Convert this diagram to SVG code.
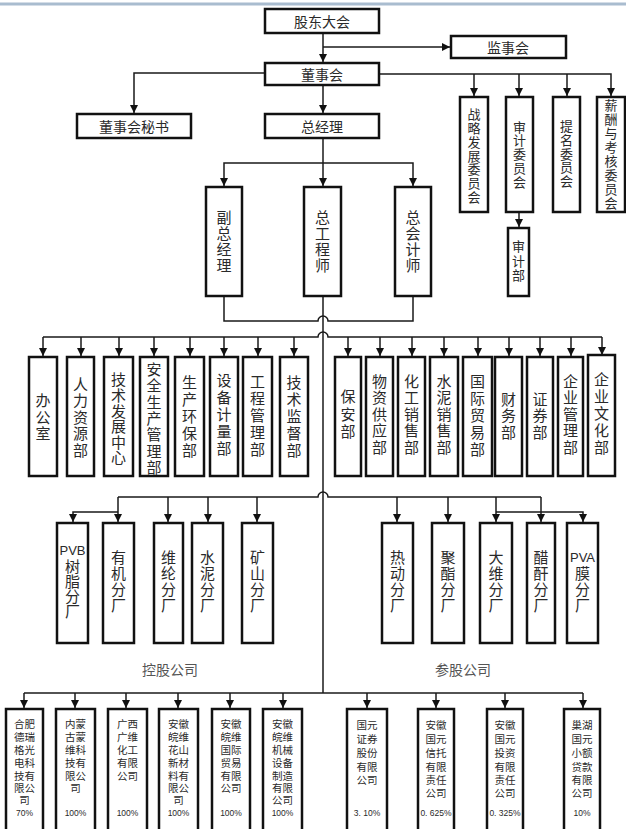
<svg xmlns="http://www.w3.org/2000/svg" width="626" height="829" viewBox="0 0 626 829">
<style>
.b{fill:#fff;stroke:#111;stroke-width:2.5}
.c{fill:none;stroke:#1a1a1a;stroke-width:1.5}
.a{marker-end:url(#ah)}
text{font-family:"Noto Sans CJK SC","Noto Sans",sans-serif;fill:#2a2a2a;text-anchor:middle;dominant-baseline:central}
.h{font-size:14px}
.vt{writing-mode:vertical-rl;dominant-baseline:central}
.v{font-size:15px;letter-spacing:1.3px}
.m{font-size:13px;letter-spacing:0.75px}
.s{font-size:10.5px;font-family:"Liberation Sans","Noto Sans CJK SC",sans-serif}
.p{font-size:8.5px;font-family:"Liberation Sans",sans-serif}
.l{font-size:14px;fill:#555}
.e{font-family:"Liberation Sans",sans-serif;font-size:13px}
</style>
<defs>
<marker id="ah" viewBox="0 0 10 10" refX="10" refY="5" markerWidth="8" markerHeight="8" markerUnits="userSpaceOnUse" orient="auto"><path d="M0,0 L10,5 L0,10 z" fill="#111"/></marker>
</defs>
<rect width="626" height="829" fill="#fff"/>
<line x1="0" y1="4" x2="626" y2="4" stroke="#a9bccf" stroke-width="3"/>

<g id="connectors">
<path class="c a" d="M323 33 V62"/>
<path class="c a" d="M323 47 H450"/>
<path class="c a" d="M323 85 V113"/>
<path class="c a" d="M265 73 H134 V113"/>
<path class="c a" d="M379 74 H611 V96"/>
<path class="c a" d="M474 74 V96"/>
<path class="c a" d="M519 74 V96"/>
<path class="c a" d="M567 74 V96"/>
<path class="c a" d="M519 212 V227"/>
<path class="c a" d="M323 138 V186"/>
<path class="c a" d="M323 163 H413 V186"/>
<path class="c a" d="M323 163 H224 V186"/>
<path class="c" d="M224 296 V321 H318 a5 5 0 0 1 10 0 H413 V296"/>
<path class="c" d="M323 296 V693"/>
<path class="c" d="M43 337 H318 a5 5 0 0 1 10 0 H602"/>
<path class="c a" d="M43 337 V356"/>
<path class="c a" d="M81 337 V356"/>
<path class="c a" d="M119 337 V356"/>
<path class="c a" d="M154 337 V356"/>
<path class="c a" d="M190 337 V356"/>
<path class="c a" d="M224 337 V356"/>
<path class="c a" d="M258 337 V356"/>
<path class="c a" d="M294 337 V356"/>
<path class="c a" d="M348 337 V356"/>
<path class="c a" d="M380 337 V356"/>
<path class="c a" d="M412 337 V356"/>
<path class="c a" d="M444 337 V356"/>
<path class="c a" d="M478 337 V356"/>
<path class="c a" d="M509 337 V356"/>
<path class="c a" d="M540 337 V356"/>
<path class="c a" d="M571 337 V356"/>
<path class="c a" d="M602 337 V355"/>
<path class="c" d="M118 497 H318 a5 5 0 0 1 10 0 H541"/>
<path class="c a" d="M118 497 V522"/>
<path class="c a" d="M118 512 H73 V522"/>
<path class="c a" d="M168 497 V522"/>
<path class="c a" d="M208 497 V522"/>
<path class="c a" d="M257 497 V522"/>
<path class="c a" d="M397 497 V522"/>
<path class="c a" d="M448 497 V522"/>
<path class="c a" d="M496 497 V522"/>
<path class="c a" d="M541 497 V522"/>
<path class="c a" d="M496 512 H583 V522"/>
<path class="c" d="M24 693 H583"/>
<path class="c a" d="M24 693 V708"/>
<path class="c a" d="M75 693 V708"/>
<path class="c a" d="M126 693 V708"/>
<path class="c a" d="M178 693 V708"/>
<path class="c a" d="M230 693 V708"/>
<path class="c a" d="M283 693 V708"/>
<path class="c a" d="M367 693 V708"/>
<path class="c a" d="M436 693 V708"/>
<path class="c a" d="M505 693 V708"/>
<path class="c a" d="M583 693 V708"/>
</g>

<g id="n-gudong"><rect class="b" x="265" y="9" width="114" height="24"/><text class="h" x="322" y="21">股东大会</text></g>
<g id="n-jianshi"><rect class="b" x="451" y="36" width="115" height="22"/><text class="h" x="508" y="47">监事会</text></g>
<g id="n-dongshi"><rect class="b" x="265" y="63" width="114" height="22"/><text class="h" x="322" y="74">董事会</text></g>
<g id="n-mishu"><rect class="b" x="77" y="114" width="114" height="24"/><text class="h" x="134" y="126">董事会秘书</text></g>
<g id="n-zongjingli"><rect class="b" x="265" y="114" width="114" height="24"/><text class="h" x="322" y="126">总经理</text></g>

<g id="n-zhanlue"><rect class="b" x="460" y="97" width="28" height="115"/><text class="vt m" x="474" y="156">战略发展委员会</text></g>
<g id="n-shenji"><rect class="b" x="506" y="97" width="27" height="115"/><text class="vt m" x="519.5" y="154.5">审计委员会</text></g>
<g id="n-timing"><rect class="b" x="553" y="97" width="27" height="115"/><text class="vt m" x="566.5" y="154">提名委员会</text></g>
<g id="n-xinchou"><rect class="b" x="597" y="97" width="28" height="115"/><text class="vt m" x="611" y="154.5" style="letter-spacing:0.9px">薪酬与考核委员会</text></g>
<g id="n-shenjibu"><rect class="b" x="508" y="228" width="21" height="68"/><text class="vt m" x="518.5" y="261.5" style="letter-spacing:1.5px">审计部</text></g>

<g id="n-fuzong"><rect class="b" x="206" y="187" width="36" height="109"/><text class="vt v" x="224" y="242" style="letter-spacing:1.2px">副总经理</text></g>
<g id="n-zonggong"><rect class="b" x="304" y="187" width="37" height="109"/><text class="vt v" x="322.5" y="242" style="letter-spacing:1.2px">总工程师</text></g>
<g id="n-zongkuaiji"><rect class="b" x="395" y="187" width="36" height="109"/><text class="vt v" x="413" y="242" style="letter-spacing:1.2px">总会计师</text></g>

<g id="d-bangongshi"><rect class="b" x="29" y="357" width="28" height="119"/><text class="vt v" x="43" y="418" style="letter-spacing:1.5px">办公室</text></g>
<g id="d-renli"><rect class="b" x="67" y="357" width="27" height="119"/><text class="vt v" x="80.5" y="418" style="letter-spacing:1.5px">人力资源部</text></g>
<g id="d-jishufazhan"><rect class="b" x="104" y="357" width="29" height="119"/><text class="vt v" x="118.5" y="419" style="letter-spacing:0.6px">技术发展中心</text></g>
<g id="d-anquan"><rect class="b" x="140" y="357" width="28" height="119"/><text class="vt v" x="154" y="419">安全生产管理部</text></g>
<g id="d-huanbao"><rect class="b" x="175" y="357" width="29" height="119"/><text class="vt v" x="189.5" y="417" style="letter-spacing:2px">生产环保部</text></g>
<g id="d-shebei"><rect class="b" x="210" y="357" width="28" height="119"/><text class="vt v" x="224" y="415" style="letter-spacing:2px">设备计量部</text></g>
<g id="d-gongcheng"><rect class="b" x="243" y="357" width="29" height="119"/><text class="vt v" x="257.5" y="416" style="letter-spacing:2px">工程管理部</text></g>
<g id="d-jiandu"><rect class="b" x="280" y="357" width="28" height="119"/><text class="vt v" x="294" y="417" style="letter-spacing:2px">技术监督部</text></g>
<g id="d-baoan"><rect class="b" x="335" y="357" width="26" height="119"/><text class="vt v" x="348" y="415.5" style="letter-spacing:2.5px">保安部</text></g>
<g id="d-wuzi"><rect class="b" x="366" y="357" width="27" height="119"/><text class="vt v" x="379.5" y="415" style="letter-spacing:1.5px">物资供应部</text></g>
<g id="d-huagong"><rect class="b" x="398" y="357" width="27" height="119"/><text class="vt v" x="411.5" y="415" style="letter-spacing:1.5px">化工销售部</text></g>
<g id="d-shuini"><rect class="b" x="430" y="357" width="28" height="119"/><text class="vt v" x="444" y="415" style="letter-spacing:1.5px">水泥销售部</text></g>
<g id="d-guoji"><rect class="b" x="463" y="357" width="29" height="119"/><text class="vt v" x="477.5" y="416" style="letter-spacing:2px">国际贸易部</text></g>
<g id="d-caiwu"><rect class="b" x="495" y="357" width="27" height="119"/><text class="vt v" x="508.5" y="416.5" style="letter-spacing:1.5px">财务部</text></g>
<g id="d-zhengquan"><rect class="b" x="527" y="357" width="26" height="119"/><text class="vt v" x="540" y="416.5" style="letter-spacing:1.5px">证券部</text></g>
<g id="d-qiyeguanli"><rect class="b" x="558" y="357" width="25" height="119"/><text class="vt v" x="570.5" y="415" style="letter-spacing:1.5px">企业管理部</text></g>
<g id="d-qiyewenhua"><rect class="b" x="588" y="355" width="27" height="121"/><text class="vt v" x="601.5" y="414" style="letter-spacing:2px">企业文化部</text></g>

<g id="f-pvb"><rect class="b" x="57" y="523" width="31" height="120"/><text class="e" x="72.5" y="550">PVB</text><text class="vt v" x="72.5" y="589" style="letter-spacing:0.3px">树脂分厂</text></g>
<g id="f-youji"><rect class="b" x="103" y="523" width="31" height="120"/><text class="vt v" x="118.5" y="582" style="letter-spacing:1px">有机分厂</text></g>
<g id="f-weilun"><rect class="b" x="154" y="523" width="29" height="120"/><text class="vt v" x="168.5" y="582" style="letter-spacing:1px">维纶分厂</text></g>
<g id="f-shuini"><rect class="b" x="192" y="523" width="31" height="120"/><text class="vt v" x="207.5" y="582" style="letter-spacing:1px">水泥分厂</text></g>
<g id="f-kuangshan"><rect class="b" x="242" y="523" width="31" height="120"/><text class="vt v" x="257.5" y="582" style="letter-spacing:1px">矿山分厂</text></g>
<g id="f-redong"><rect class="b" x="382" y="523" width="31" height="120"/><text class="vt v" x="397.5" y="582" style="letter-spacing:1px">热动分厂</text></g>
<g id="f-juzhi"><rect class="b" x="432" y="523" width="32" height="120"/><text class="vt v" x="448" y="582" style="letter-spacing:1px">聚酯分厂</text></g>
<g id="f-dawei"><rect class="b" x="480" y="523" width="32" height="120"/><text class="vt v" x="496" y="582" style="letter-spacing:1px">大维分厂</text></g>
<g id="f-cugan"><rect class="b" x="527" y="523" width="28" height="120"/><text class="vt v" x="541" y="582" style="letter-spacing:1px">醋酐分厂</text></g>
<g id="f-pva"><rect class="b" x="567" y="523" width="31" height="120"/><text class="e" x="582.5" y="557">PVA</text><text class="vt v" x="582.5" y="590" style="letter-spacing:1px">膜分厂</text></g>

<text class="l" x="170" y="669">控股公司</text>
<text class="l" x="463" y="669">参股公司</text>

<g id="c-hefei"><rect class="b" x="6" y="709" width="37" height="126"/><text class="s" x="24.5" y="724">合肥</text><text class="s" x="24.5" y="737">德瑞</text><text class="s" x="24.5" y="750">格光</text><text class="s" x="24.5" y="763">电科</text><text class="s" x="24.5" y="776">技有</text><text class="s" x="24.5" y="788">限公</text><text class="s" x="24.5" y="800">司</text><text class="p" x="24.5" y="813">70%</text></g>
<g id="c-neimeng"><rect class="b" x="56" y="709" width="39" height="126"/><text class="s" x="75.5" y="724">内蒙</text><text class="s" x="75.5" y="737">古蒙</text><text class="s" x="75.5" y="750">维科</text><text class="s" x="75.5" y="763">技有</text><text class="s" x="75.5" y="776">限公</text><text class="s" x="75.5" y="788">司</text><text class="p" x="75.5" y="813">100%</text></g>
<g id="c-guangxi"><rect class="b" x="108" y="709" width="39" height="126"/><text class="s" x="127.5" y="724">广西</text><text class="s" x="127.5" y="737">广维</text><text class="s" x="127.5" y="750">化工</text><text class="s" x="127.5" y="763">有限</text><text class="s" x="127.5" y="776">公司</text><text class="p" x="127.5" y="813">100%</text></g>
<g id="c-huashan"><rect class="b" x="159" y="709" width="39" height="126"/><text class="s" x="178.5" y="724">安徽</text><text class="s" x="178.5" y="737">皖维</text><text class="s" x="178.5" y="750">花山</text><text class="s" x="178.5" y="763">新材</text><text class="s" x="178.5" y="776">料有</text><text class="s" x="178.5" y="788">限公</text><text class="s" x="178.5" y="800">司</text><text class="p" x="178.5" y="813">100%</text></g>
<g id="c-guojimaoyi"><rect class="b" x="212" y="709" width="38" height="126"/><text class="s" x="231" y="724">安徽</text><text class="s" x="231" y="737">皖维</text><text class="s" x="231" y="750">国际</text><text class="s" x="231" y="763">贸易</text><text class="s" x="231" y="776">有限</text><text class="s" x="231" y="788">公司</text><text class="p" x="231" y="813">100%</text></g>
<g id="c-jixie"><rect class="b" x="263" y="709" width="39" height="126"/><text class="s" x="282.5" y="724">安徽</text><text class="s" x="282.5" y="737">皖维</text><text class="s" x="282.5" y="750">机械</text><text class="s" x="282.5" y="763">设备</text><text class="s" x="282.5" y="776">制造</text><text class="s" x="282.5" y="788">有限</text><text class="s" x="282.5" y="800">公司</text><text class="p" x="282.5" y="813">100%</text></g>
<g id="c-zhengquan"><rect class="b" x="347" y="709" width="40" height="126"/><text class="s" x="367" y="725">国元</text><text class="s" x="367" y="739">证券</text><text class="s" x="367" y="753">股份</text><text class="s" x="367" y="767">有限</text><text class="s" x="367" y="780">公司</text><text class="p" x="367" y="813">3. 10%</text></g>
<g id="c-xintuo"><rect class="b" x="418" y="709" width="36" height="126"/><text class="s" x="436" y="725">安徽</text><text class="s" x="436" y="739">国元</text><text class="s" x="436" y="753">信托</text><text class="s" x="436" y="767">有限</text><text class="s" x="436" y="780">责任</text><text class="s" x="436" y="793">公司</text><text class="p" x="436" y="813">0. 625%</text></g>
<g id="c-touzi"><rect class="b" x="487" y="709" width="36" height="126"/><text class="s" x="505" y="725">安徽</text><text class="s" x="505" y="739">国元</text><text class="s" x="505" y="753">投资</text><text class="s" x="505" y="767">有限</text><text class="s" x="505" y="780">责任</text><text class="s" x="505" y="793">公司</text><text class="p" x="505" y="813">0. 325%</text></g>
<g id="c-chaohu"><rect class="b" x="564" y="709" width="36" height="126"/><text class="s" x="582" y="725">巢湖</text><text class="s" x="582" y="739">国元</text><text class="s" x="582" y="753">小额</text><text class="s" x="582" y="767">贷款</text><text class="s" x="582" y="780">有限</text><text class="s" x="582" y="793">公司</text><text class="p" x="582" y="813">10%</text></g>
</svg>
